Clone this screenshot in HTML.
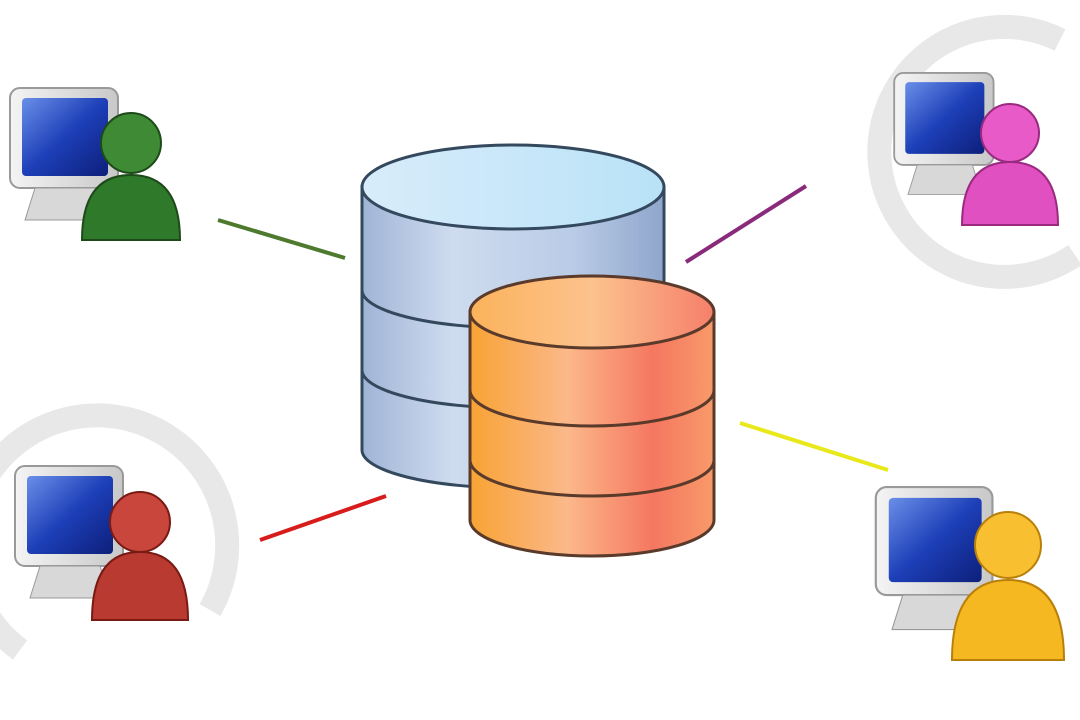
<!DOCTYPE html>
<html><head><meta charset="utf-8"><style>
html,body{margin:0;padding:0;background:#fff;}
svg{display:block}
</style></head><body>
<svg width="1080" height="720" viewBox="0 0 1080 720" xmlns="http://www.w3.org/2000/svg">
<defs>
<linearGradient id="blue" x1="0" x2="1" y1="0" y2="0">
<stop offset="0" stop-color="#9fb4d6"/><stop offset="0.3" stop-color="#cfdcef"/><stop offset="0.7" stop-color="#b9cbe6"/><stop offset="1" stop-color="#8fa6cc"/></linearGradient>
<linearGradient id="bluetop" x1="0" x2="1"><stop offset="0" stop-color="#d8ecfb"/><stop offset="1" stop-color="#b9e2f7"/></linearGradient>
<linearGradient id="orange" x1="0" x2="1"><stop offset="0" stop-color="#f8a334"/><stop offset="0.4" stop-color="#fbb88a"/><stop offset="0.75" stop-color="#f57760"/><stop offset="1" stop-color="#f89a6a"/></linearGradient>
<linearGradient id="ortop" x1="0" x2="1"><stop offset="0" stop-color="#fbb25a"/><stop offset="0.5" stop-color="#fcc28e"/><stop offset="1" stop-color="#f57f6a"/></linearGradient>
<linearGradient id="scr" x1="0" y1="0" x2="1" y2="1"><stop offset="0" stop-color="#6a8fe8"/><stop offset="0.5" stop-color="#1d3fb8"/><stop offset="1" stop-color="#0d1f7a"/></linearGradient>
<linearGradient id="mon" x1="0" x2="1"><stop offset="0" stop-color="#f4f4f4"/><stop offset="1" stop-color="#c8c8c8"/></linearGradient>
</defs>
<!-- grey arcs -->
<path d="M1075 255 A125 125 0 1 1 1060 40" fill="none" stroke="#e8e8e8" stroke-width="24"/>
<path d="M20 650 A130 130 0 1 1 210 610" fill="none" stroke="#e8e8e8" stroke-width="24"/>
<!-- lines -->
<line x1="218" y1="220" x2="345" y2="258" stroke="#4d7a2e" stroke-width="4"/>
<line x1="686" y1="262" x2="806" y2="186" stroke="#8a2a7a" stroke-width="4"/>
<line x1="260" y1="540" x2="386" y2="496" stroke="#d81c1c" stroke-width="4"/>
<line x1="740" y1="423" x2="888" y2="470" stroke="#e8e81a" stroke-width="4"/>
<!-- blue cylinder -->
<g stroke="#34495e" stroke-width="3">
<path d="M362 187 L362 450 A151 38 0 0 0 664 450 L664 187 Z" fill="url(#blue)"/>
<path d="M362 290 A151 38 0 0 0 664 290" fill="none"/>
<path d="M362 370 A151 38 0 0 0 664 370" fill="none"/>
<ellipse cx="513" cy="187" rx="151" ry="42" fill="url(#bluetop)"/>
</g>
<!-- orange cylinder -->
<g stroke="#5a3a2a" stroke-width="3">
<path d="M470 312 L470 520 A122 36 0 0 0 714 520 L714 312 Z" fill="url(#orange)"/>
<path d="M470 390 A122 36 0 0 0 714 390" fill="none"/>
<path d="M470 460 A122 36 0 0 0 714 460" fill="none"/>
<ellipse cx="592" cy="312" rx="122" ry="36" fill="url(#ortop)"/>
</g>
<!-- users -->
<g id="u1">
<rect x="10" y="88" width="108" height="100" rx="10" fill="url(#mon)" stroke="#999" stroke-width="2"/>
<rect x="22" y="98" width="86" height="78" rx="4" fill="url(#scr)"/>
<path d="M35 188 L95 188 L105 220 L25 220 Z" fill="#d8d8d8" stroke="#999"/>
</g>
<circle cx="131" cy="143" r="30" fill="#3f8a35" stroke="#1d4a1a" stroke-width="2"/>
<path d="M82 240 Q82 175 131 175 Q180 175 180 240 Z" fill="#2f7a2a" stroke="#1d4a1a" stroke-width="2"/>

<use href="#u1" transform="translate(885,-8) scale(0.92)"/>
<circle cx="1010" cy="133" r="29" fill="#e85ac8" stroke="#9a2a80" stroke-width="2"/>
<path d="M962 225 Q962 162 1010 162 Q1058 162 1058 225 Z" fill="#e050c0" stroke="#9a2a80" stroke-width="2"/>

<use href="#u1" transform="translate(5,378)"/>
<circle cx="140" cy="522" r="30" fill="#c8463c" stroke="#7a1a15" stroke-width="2"/>
<path d="M92 620 Q92 552 140 552 Q188 552 188 620 Z" fill="#b83a30" stroke="#7a1a15" stroke-width="2"/>

<use href="#u1" transform="translate(865,392) scale(1.08)"/>
<circle cx="1008" cy="545" r="33" fill="#f8c030" stroke="#b8800a" stroke-width="2"/>
<path d="M952 660 Q952 580 1008 580 Q1064 580 1064 660 Z" fill="#f5b820" stroke="#b8800a" stroke-width="2"/>
</svg>
</body></html>
